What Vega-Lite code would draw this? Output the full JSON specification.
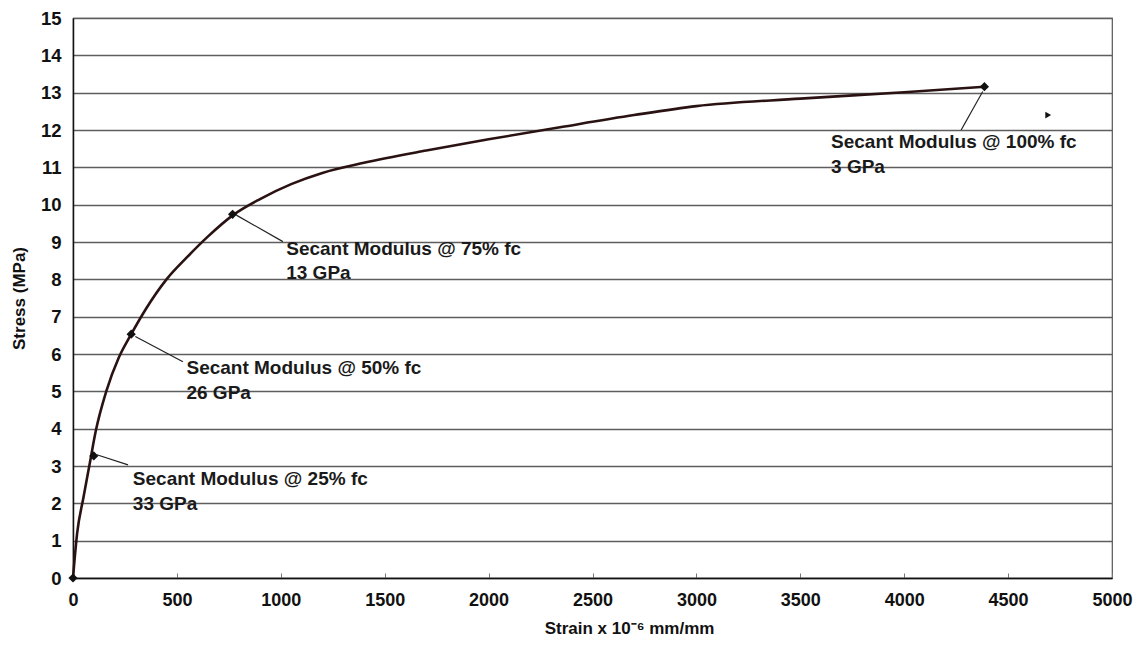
{
  "$schema": "https://vega.github.io/schema/vega-lite/v6.json",
  "autosize": "none",
  "width": 1039,
  "height": 560,
  "padding": {"left": 73, "top": 18, "right": 26, "bottom": 70},
  "background": "white",
  "config": {
    "font": "Liberation Sans",
    "view": {"stroke": "#555", "strokeWidth": 1.2},
    "axis": {"labelFont": "Liberation Sans", "titleFont": "Liberation Sans", "labelFontWeight": "bold", "titleFontWeight": "bold", "labelColor": "#111", "titleColor": "#111", "domainColor": "#111", "domainWidth": 1.5}
  },
  "datasets": {
    "curve": [
      {"strain": 0, "stress": 0},
      {"strain": 20, "stress": 1.2},
      {"strain": 50, "stress": 2.15},
      {"strain": 80, "stress": 3.05},
      {"strain": 110, "stress": 3.95},
      {"strain": 160, "stress": 5.0},
      {"strain": 220, "stress": 5.9},
      {"strain": 280, "stress": 6.53},
      {"strain": 350, "stress": 7.2},
      {"strain": 450, "stress": 8.0},
      {"strain": 550, "stress": 8.6},
      {"strain": 650, "stress": 9.15},
      {"strain": 770, "stress": 9.72},
      {"strain": 900, "stress": 10.15},
      {"strain": 1050, "stress": 10.55},
      {"strain": 1200, "stress": 10.85},
      {"strain": 1400, "stress": 11.12},
      {"strain": 1700, "stress": 11.45},
      {"strain": 2000, "stress": 11.75},
      {"strain": 2350, "stress": 12.08},
      {"strain": 2700, "stress": 12.4},
      {"strain": 3000, "stress": 12.64},
      {"strain": 3500, "stress": 12.84},
      {"strain": 4000, "stress": 13.01},
      {"strain": 4386, "stress": 13.16}
    ],
    "markers": [
      {"strain": 0, "stress": 0},
      {"strain": 100, "stress": 3.27},
      {"strain": 280, "stress": 6.53},
      {"strain": 768, "stress": 9.74},
      {"strain": 4386, "stress": 13.16}
    ],
    "leaders": [
      {"strain": 265, "stress": 3.03, "strain2": 115, "stress2": 3.3},
      {"strain": 529, "stress": 5.79, "strain2": 300, "stress2": 6.47},
      {"strain": 1010, "stress": 9.01, "strain2": 786, "stress2": 9.72},
      {"strain": 4274, "stress": 12.0, "strain2": 4378, "stress2": 13.03}
    ],
    "labels": [
      {"strain": 288, "stress": 2.65, "text": "Secant Modulus @ 25% fc"},
      {"strain": 288, "stress": 1.98, "text": "33 GPa"},
      {"strain": 546, "stress": 5.63, "text": "Secant Modulus @ 50% fc"},
      {"strain": 546, "stress": 4.96, "text": "26 GPa"},
      {"strain": 1026, "stress": 8.81, "text": "Secant Modulus @ 75% fc"},
      {"strain": 1026, "stress": 8.17, "text": "13 GPa"},
      {"strain": 3648, "stress": 11.68, "text": "Secant Modulus @ 100% fc"},
      {"strain": 3648, "stress": 11.01, "text": "3 GPa"}
    ],
    "triangle": [{"strain": 4693, "stress": 12.4}]
  },
  "encoding": {
    "x": {"field": "strain", "type": "quantitative", "scale": {"domain": [0, 5000], "nice": false},
      "axis": {"title": "Strain x 10⁻⁶ mm/mm", "values": [0, 500, 1000, 1500, 2000, 2500, 3000, 3500, 4000, 4500, 5000], "format": "d", "grid": false, "labelFontSize": 18, "titleFontSize": 17, "tickSize": -5, "tickColor": "#777", "labelPadding": 18, "titlePadding": 11, "titleX": 556, "titleAlign": "center", "labelOverlap": false, "labelFlush": false}},
    "y": {"field": "stress", "type": "quantitative", "scale": {"domain": [0, 15], "nice": false},
      "axis": {"title": "Stress (MPa)", "values": [0,1,2,3,4,5,6,7,8,9,10,11,12,13,14,15], "format": "d", "grid": true, "gridColor": "#5e5e5e", "gridWidth": 1.3, "ticks": false, "labelFontSize": 18.5, "titleFontSize": 17, "labelPadding": 12, "titlePadding": 12, "labelOverlap": false}}
  },
  "layer": [
    {
      "data": {"name": "curve"},
      "mark": {"type": "line", "color": "#2a1212", "strokeWidth": 2.6, "interpolate": "monotone"}
    },
    {
      "data": {"name": "markers"},
      "mark": {"type": "point", "shape": "diamond", "filled": true, "color": "#111", "size": 85, "opacity": 1}
    },
    {
      "data": {"name": "leaders"},
      "mark": {"type": "rule", "color": "#222", "strokeWidth": 1.2},
      "encoding": {
        "x2": {"field": "strain2"},
        "y2": {"field": "stress2"}
      }
    },
    {
      "data": {"name": "labels"},
      "mark": {"type": "text", "align": "left", "baseline": "middle", "font": "Liberation Sans", "fontWeight": "bold", "fontSize": 19, "color": "#1a1a1a"},
      "encoding": {
        "text": {"field": "text"}
      }
    },
    {
      "data": {"name": "triangle"},
      "mark": {"type": "point", "shape": "triangle-right", "filled": true, "color": "#111", "size": 45, "opacity": 1}
    }
  ]
}
